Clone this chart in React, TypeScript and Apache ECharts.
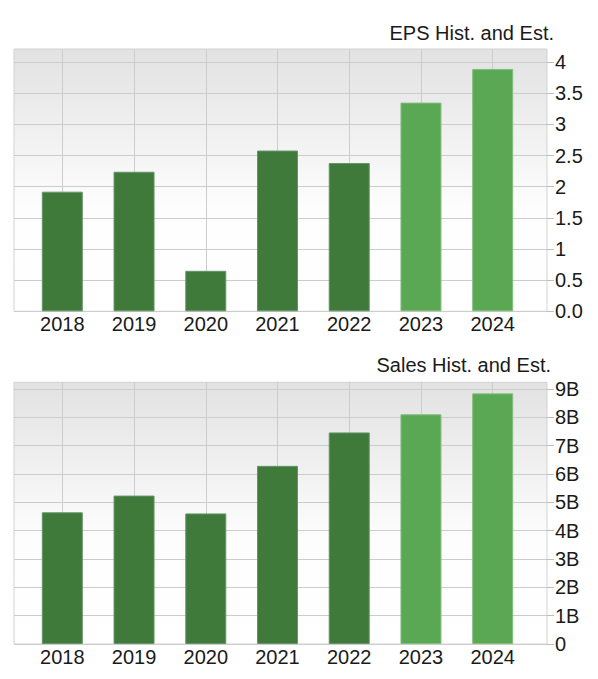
import React, { useEffect, useRef } from "react";
import * as echarts from "echarts";

const years = ["2018", "2019", "2020", "2021", "2022", "2023", "2024"];
const epsValues = [1.92, 2.24, 0.65, 2.58, 2.38, 3.35, 3.89];
const salesValues = [4.65e9, 5.24e9, 4.61e9, 6.29e9, 7.47e9, 8.11e9, 8.85e9];
const isEstimate = [false, false, false, false, false, true, true];
const epsTicks = [0, 0.5, 1, 1.5, 2, 2.5, 3, 3.5, 4];
const salesTicks = [0, 1e9, 2e9, 3e9, 4e9, 5e9, 6e9, 7e9, 8e9, 9e9];
const epsTitle = "EPS Hist. and Est.";
const salesTitle = "Sales Hist. and Est.";

const DARK = "#3f7a3a";
const LIGHT = "#5ba854";
const FONT = "Liberation Sans, Arial, sans-serif";
const FS = 20;

const bgGradient = {
  type: "linear",
  x: 0,
  y: 0,
  x2: 0,
  y2: 1,
  colorStops: [
    { offset: 0, color: "#e2e2e2" },
    { offset: 0.6, color: "#fdfdfd" },
    { offset: 1, color: "#ffffff" },
  ],
};

function epsLabel(v: number) {
  if (v === 0) return "0.0";
  if (epsTicks.indexOf(v) < 0) return "";
  return String(v);
}
function salesLabel(v: number) {
  if (v === 0) return "0";
  if (salesTicks.indexOf(v) < 0) return "";
  return Math.round(v / 1e9) + "B";
}

export default function App() {
  const ref = useRef<HTMLDivElement>(null);
  useEffect(() => {
    if (!ref.current) return;
    const chart = echarts.init(ref.current, null, { renderer: "svg" });

    const plotLeft = 14;
    const plotWidth = 533;
    const barLeft = 62.3;
    const barWidthSpan = 430.4;
    const g = [
      { top: 49, height: 262.3 },
      { top: 382.3, height: 261.7 },
    ];
    const maxes = [4.21, 9.24e9];
    const intervals = [0.5, 1e9];
    const formatters = [epsLabel, salesLabel];
    const ticks = [epsTicks, salesTicks];
    const data = [epsValues, salesValues];

    const grids: any[] = [];
    const xAxes: any[] = [];
    const yAxes: any[] = [];
    const series: any[] = [];

    for (let k = 0; k < 2; k++) {
      grids.push({
        left: plotLeft,
        width: plotWidth,
        top: g[k].top,
        height: g[k].height,
        show: true,
        backgroundColor: bgGradient,
        borderColor: "#d2d2d2",
        borderWidth: 1,
      });
      grids.push({
        left: barLeft,
        width: barWidthSpan,
        top: g[k].top,
        height: g[k].height,
        show: false,
      });
      const bgIdx = k * 2;
      const barIdx = k * 2 + 1;
      xAxes.push({
        type: "category",
        gridIndex: bgIdx,
        data: years,
        show: false,
      });
      xAxes.push({
        type: "category",
        gridIndex: barIdx,
        data: years,
        boundaryGap: false,
        axisLine: { show: false },
        axisTick: { show: false },
        splitLine: { show: true, lineStyle: { color: "#cccccc", width: 1 } },
        axisLabel: {
          interval: 0,
          fontFamily: FONT,
          fontSize: FS,
          color: "#1a1a1a",
          margin: 3,
        },
      });
      yAxes.push({
        type: "value",
        gridIndex: bgIdx,
        position: "right",
        min: 0,
        max: maxes[k],
        interval: intervals[k],
        axisLine: { show: false },
        axisTick: {
          show: true,
          length: 7,
          lineStyle: { color: "#bdbdbd" },
          customValues: ticks[k],
        },
        splitLine: { show: true, lineStyle: { color: "#cccccc", width: 1 } },
        axisLabel: {
          show: true,
          customValues: ticks[k],
          formatter: formatters[k],
          fontFamily: FONT,
          fontSize: FS,
          color: "#1a1a1a",
          margin: 8,
          align: "left",
        },
      });
      yAxes.push({
        type: "value",
        gridIndex: barIdx,
        min: 0,
        max: maxes[k],
        show: false,
        splitLine: { show: false },
      });
      series.push({
        type: "bar",
        xAxisIndex: barIdx,
        yAxisIndex: barIdx,
        barWidth: 41,
        clip: false,
        data: data[k].map((v, i) => ({
          value: v,
          itemStyle: {
            color: isEstimate[i] ? LIGHT : DARK,
            borderColor: isEstimate[i] ? "#83bd7d" : "#65946a",
            borderWidth: 1,
          },
        })),
      });
    }

    chart.setOption({
      animation: false,
      backgroundColor: "#ffffff",
      title: [
        {
          text: epsTitle,
          right: 44,
          top: 23,
          textStyle: { fontFamily: FONT, fontSize: FS, fontWeight: "normal", color: "#1a1a1a" },
          padding: 0,
        },
        {
          text: salesTitle,
          right: 47,
          top: 355,
          textStyle: { fontFamily: FONT, fontSize: FS, fontWeight: "normal", color: "#1a1a1a" },
          padding: 0,
        },
      ],
      grid: grids,
      xAxis: xAxes,
      yAxis: yAxes,
      series,
    });
    return () => chart.dispose();
  }, []);
  return (
    <div
      ref={ref}
      style={{ position: "absolute", left: 0, top: 0, width: 598, height: 679 }}
    />
  );
}
